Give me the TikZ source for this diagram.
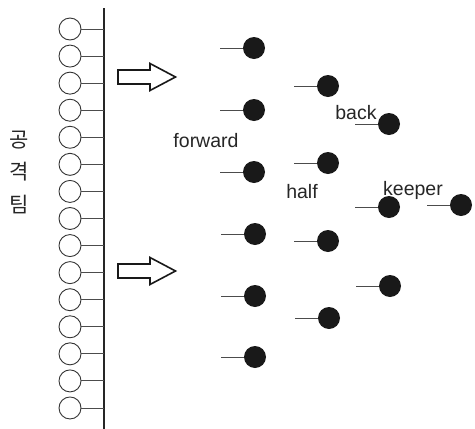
\documentclass[tikz,border=0pt]{standalone}
\usepackage{fontspec}
\setmainfont{Liberation Sans}
\newfontfamily\krfont{Noto Sans CJK KR}
\begin{document}
\begin{tikzpicture}[x=1pt,y=-1pt,
  mainline/.style={draw=black!85,line width=1.2pt},
  opencirc/.style={circle,draw=black!80,line width=0.9pt,minimum size=22pt,inner sep=0pt,fill=white},
  stem/.style={draw=black!70,line width=0.9pt},
  dot/.style={circle,fill=black!90,minimum size=22pt,inner sep=0pt},
  hollowarrow/.style={draw=black!90,line width=1.6pt,line join=miter,fill=white},
  lbl/.style={font=\fontsize{19.5}{22}\selectfont,text=black!85,inner sep=0pt}]
\useasboundingbox (0,0) rectangle (475,429);
\coordinate (top) at (104,8);
\coordinate (bot) at (104,429);
\draw[mainline] (top) -- (bot);
\foreach \i in {0,...,14}{
  \pgfmathsetmacro\yy{29+27.07*\i}
  \node[opencirc] (c\i) at (70,\yy) {};
  \draw[stem] (c\i.east) -- (c\i.east -| top);
}
% hollow arrows
\foreach \n/\y in {a1/77,a2/271}{
  \coordinate (\n) at (118,\y);
  \draw[hollowarrow] (\n) ++(0,-7) -- ++(32,0) -- ++(0,-6.5) -- ++(25.5,13.5) -- ++(-25.5,13.5) -- ++(0,-6.5) -- ++(-32,0) -- cycle;
}
% players
\foreach \n/\x/\y in {f1/254/48,f2/254/110,f3/254/172,f4/255/234,f5/255/296,f6/255/357,
                     h1/328/86,h2/328/163,h3/328/241,h4/329/318,
                     b1/389/124,b2/389/207,b3/390/286,
                     k1/461/205}{
  \node[dot] (\n) at (\x,\y) {};
  \coordinate (\n s) at (\x-34,\y);
  \draw[stem] (\n s) -- (\n);
}
\node[lbl] (forward) at (206,141) {forward};
\node[lbl] (half) at (302,192) {half};
\node[lbl] (back) at (356,113) {back};
\node[lbl] (keeper) at (413,190) {keeper};
\node[font=\krfont\fontsize{21}{32.5}\selectfont,align=center,inner sep=0pt,text=black!85] (team) at (19,172) {공\\격\\팀};
\end{tikzpicture}
\end{document}
